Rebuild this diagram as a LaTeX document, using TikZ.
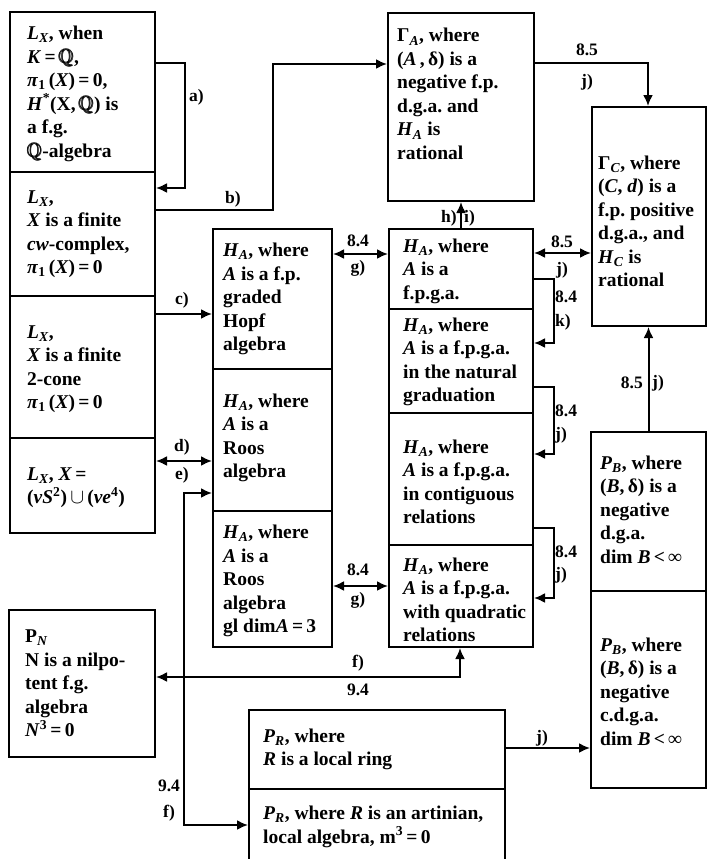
\documentclass[tikz,border=0pt]{standalone}
\usepackage{fontspec}
\usepackage{amsmath}
\usepackage{amssymb}
\setmainfont{Liberation Serif}
\usetikzlibrary{arrows.meta, positioning, calc}
\tikzset{
	cell/.style ={rectangle, draw=black, line width=2pt, anchor=north west, inner sep=0pt},
	txt/.style  ={anchor=west, align=left, inner sep=0pt},
	link/.style ={line width=2pt, -{Latex[length=11pt,width=10pt]}},
	dlink/.style={line width=2pt, {Latex[length=11pt,width=10pt]}-{Latex[length=11pt,width=10pt]}},
	lbl/.style  ={inner sep=1pt, font=\bfseries\fontsize{17.5}{19}\selectfont},
}
\newcommand{\mi}[1]{\textit{#1}}
\newcommand{\lo}[1]{\textsubscript{\textit{#1}}}
\newcommand{\hi}[1]{\textsuperscript{#1}}
\newcommand{\QQ}{$\pmb{\mathbb{Q}}$}
\frenchspacing

\begin{document}
\begin{tikzpicture}[x=1pt, y=-1pt, font=\bfseries\fontsize{19.5}{23.5}\selectfont]
	\useasboundingbox (0,0) rectangle (707,859);
	\clip (0,0) rectangle (707,859);
	% left column: the spaces X
	\node[cell, minimum width=145pt, minimum height=160pt] (lxq) at (9,11) {};
	\node[cell, minimum width=145pt, minimum height=124pt] (lxcw) at (9,171) {};
	\node[cell, minimum width=145pt, minimum height=142pt] (lxcone) at (9,295) {};
	\node[cell, minimum width=145pt, minimum height=95pt] (lxwedge) at (9,437) {};
	\node[cell, minimum width=146pt, minimum height=147pt] (pn) at (8,609) {};
	\node[txt] at ($(lxq.west)+(18,2)$) {\mi{L}\lo{X}, when\\ \mi{K}\,=\,\QQ,\\ \mi{π}\textsubscript{1}\,(\mi{X})\,=\,0,\\ \mi{H}\hi{*}(X,\,\QQ) is\\ a f.g.\\ \QQ-algebra};
	\node[txt] at ($(lxcw.west)+(18,0)$) {\mi{L}\lo{X},\\ \mi{X} is a finite\\ \mi{cw}-complex,\\ \mi{π}\textsubscript{1}\,(\mi{X})\,=\,0};
	\node[txt] at ($(lxcone.west)+(18,2)$) {\mi{L}\lo{X},\\ \mi{X} is a finite\\ 2-cone\\ \mi{π}\textsubscript{1}\,(\mi{X})\,=\,0};
	\node[txt] at ($(lxwedge.west)+(18,2)$) {\mi{L}\lo{X}, \mi{X}\,=\\ (\mi{vS}\hi{2})\,$\cup$\,(\mi{ve}\hi{4})};
	\node[txt] at ($(pn.west)+(17,0)$) {P\lo{N}\\ N is a nilpo-\\ tent f.g.\\ algebra\\ \mi{N}\hi{3}\,=\,0};
	% the Hopf algebra columns
	\node[cell, minimum width=119pt, minimum height=140pt] (hopf) at (212,228) {};
	\node[cell, minimum width=119pt, minimum height=142pt] (roos) at (212,368) {};
	\node[cell, minimum width=119pt, minimum height=136pt] (roosgl) at (212,510) {};
	\node[txt] at ($(hopf.west)+(11,0)$) {\mi{H}\lo{A}, where\\ \mi{A} is a f.p.\\ graded\\ Hopf\\ algebra};
	\node[txt] at ($(roos.west)+(11,-2)$) {\mi{H}\lo{A}, where\\ \mi{A} is a\\ Roos\\ algebra};
	\node[txt] at ($(roosgl.west)+(11,2)$) {\mi{H}\lo{A}, where\\ \mi{A} is a\\ Roos\\ algebra\\ gl dim\mi{A}\,=\,3};
	\node[cell, minimum width=144pt, minimum height=80pt] (fpga) at (388,228) {};
	\node[cell, minimum width=144pt, minimum height=104pt] (natural) at (388,308) {};
	\node[cell, minimum width=144pt, minimum height=132pt] (contig) at (388,412) {};
	\node[cell, minimum width=144pt, minimum height=102pt] (quad) at (388,544) {};
	\node[txt] at ($(fpga.west)+(15,2)$) {\mi{H}\lo{A}, where\\ \mi{A} is a\\ f.p.g.a.};
	\node[txt] at ($(natural.west)+(15,1)$) {\mi{H}\lo{A}, where\\ \mi{A} is a f.p.g.a.\\ in the natural\\ graduation};
	\node[txt] at ($(contig.west)+(15,3)$) {\mi{H}\lo{A}, where\\ \mi{A} is a f.p.g.a.\\ in contiguous\\ relations};
	\node[txt] at ($(quad.west)+(15,4)$) {\mi{H}\lo{A}, where\\ \mi{A} is a f.p.g.a.\\ with quadratic\\ relations};
	% d.g.a. boxes
	\node[cell, minimum width=146pt, minimum height=188pt] (gamA) at (387,12) {};
	\node[cell, minimum width=114pt, minimum height=219pt] (gamC) at (591,106) {};
	\node[cell, minimum width=115pt, minimum height=159pt] (pbdga) at (590,431) {};
	\node[cell, minimum width=115pt, minimum height=197pt] (pbcdga) at (590,590) {};
	\node[txt] at ($(gamA.west)+(10,-13)$) {Γ\lo{A}, where\\ (\mi{A}\,,\,δ) is a\\ negative f.p.\\ d.g.a. and\\ \mi{H}\lo{A} is\\ rational};
	\node[txt] at ($(gamC.west)+(7,5)$) {Γ\lo{C}, where\\ (\mi{C}, \mi{d}) is a\\ f.p. positive\\ d.g.a., and\\ \mi{H}\lo{C} is\\ rational};
	\node[txt] at ($(pbdga.west)+(10,-2)$) {\mi{P}\lo{B}, where\\ (\mi{B},\,δ) is a\\ negative\\ d.g.a.\\ dim \mi{B}\,<\,∞};
	\node[txt] at ($(pbcdga.west)+(10,2)$) {\mi{P}\lo{B}, where\\ (\mi{B},\,δ) is a\\ negative\\ c.d.g.a.\\ dim \mi{B}\,<\,∞};
	% local rings
	\node[cell, minimum width=256pt, minimum height=79pt] (prlocal) at (248,709) {};
	\node[cell, minimum width=256pt, minimum height=76pt] (prart) at (248,788) {};
	\node[txt] at ($(prlocal.west)+(15,0)$) {\mi{P}\lo{R}, where\\ \mi{R} is a local ring};
	\node[txt] at ($(prart.west)+(15,0)$) {\mi{P}\lo{R}, where \mi{R} is an artinian,\\ local algebra, m\hi{3}\,=\,0};

	% connectors
	\draw[link] ($(lxq.north east)+(0,52)$) -- ++(29,0) |- ($(lxcw.north east)+(0,17)$);
	\draw[link] ($(lxcw.north east)+(0,39)$) -- ++(117,0) |- ($(gamA.north west)+(0,52)$);
	\draw[link] ($(lxcone.north east)+(0,19)$) -- ($(hopf.north west)+(0,86)$);
	\draw[dlink] ($(lxwedge.north east)+(0,24)$) -- ($(roos.north west)+(0,93)$);
	\draw[dlink] ($(roos.north west)+(0,125)$) -- ++(-28,0) |- ($(prart.north west)+(0,37)$);
	\draw[dlink] ($(quad.south west)+(72,0)$) |- ($(pn.north east)+(0,68)$);
	\draw[dlink] ($(hopf.north east)+(0,26)$) -- ($(fpga.north west)+(0,26)$);
	\draw[dlink] ($(roosgl.north east)+(0,76)$) -- ($(quad.north west)+(0,42)$);
	\draw[dlink] ($(fpga.north east)+(0,25)$) -- ($(gamC.north west)+(0,147)$);
	\draw[link] (fpga.north) -- (gamA.south);
	\draw[link] ($(gamA.north east)+(0,51)$) -| ($(gamC.north west)+(57,0)$);
	\draw[link] ($(fpga.north east)+(0,51)$) -- ++(20,0) |- ($(natural.north east)+(0,35)$);
	\draw[link] ($(natural.north east)+(0,79)$) -- ++(20,0) |- ($(contig.north east)+(0,42)$);
	\draw[link] ($(contig.north east)+(0,116)$) -- ++(20,0) |- ($(quad.north east)+(0,54)$);
	\draw[link] (pbdga.north) -- (pbdga.north |- gamC.south);
	\draw[link] ($(prlocal.north east)+(0,39)$) -- ($(pbcdga.north west)+(0,158)$);

	% labels
	\node[lbl, anchor=west] at (188,97) {a)};
	\node[lbl] at (233,199) {b)};
	\node[lbl] at (182,300) {c)};
	\node[lbl] at (182,447) {d)};
	\node[lbl] at (182,475) {e)};
	\node[lbl] at (169,786) {9.4};
	\node[lbl] at (169,813) {f)};
	\node[lbl] at (358,663) {f)};
	\node[lbl] at (358,690) {9.4};
	\node[lbl, anchor=east] at (458,218) {h)};
	\node[lbl, anchor=west] at (463,218) {i)};
	\node[lbl] at (358,241) {8.4};
	\node[lbl] at (358,268) {g)};
	\node[lbl] at (358,570) {8.4};
	\node[lbl] at (358,600) {g)};
	\node[lbl] at (562,242) {8.5};
	\node[lbl] at (562,270) {j)};
	\node[lbl] at (587,50) {8.5};
	\node[lbl] at (587,82) {j)};
	\node[lbl, anchor=west] at (554,297) {8.4};
	\node[lbl, anchor=west] at (554,322) {k)};
	\node[lbl, anchor=west] at (554,411) {8.4};
	\node[lbl, anchor=west] at (554,435) {j)};
	\node[lbl, anchor=west] at (554,552) {8.4};
	\node[lbl, anchor=west] at (554,575) {j)};
	\node[lbl, anchor=east] at (644,383) {8.5};
	\node[lbl, anchor=west] at (651,383) {j)};
	\node[lbl] at (542,738) {j)};
\end{tikzpicture}
\end{document}
